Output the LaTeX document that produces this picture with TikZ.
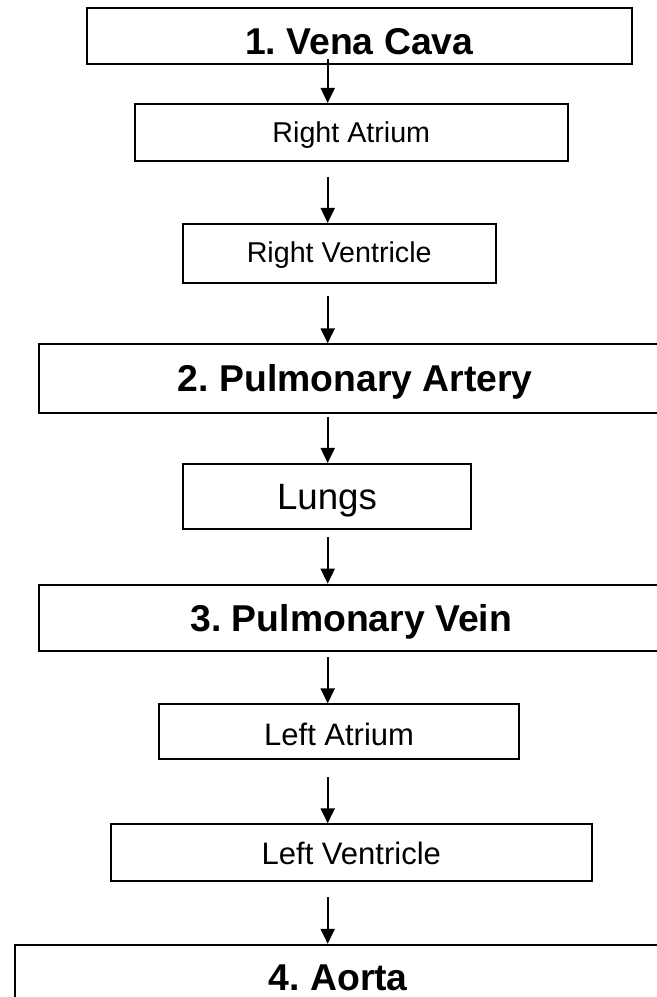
\documentclass[tikz,border=0pt]{standalone}
\usepackage{fontspec}
\setmainfont{Liberation Sans}
\frenchspacing
\usetikzlibrary{arrows.meta,calc}
\begin{document}
\begin{tikzpicture}[x=0.75pt,y=-0.75pt,
  box/.style={draw=black,line width=1.5pt,rectangle,inner sep=0pt,anchor=center},
  big/.style={font=\fontsize{28pt}{30pt}\selectfont\bfseries},
  smallr/.style={font=\fontsize{21.5pt}{24pt}\selectfont},
  smalll/.style={font=\fontsize{23.25pt}{26pt}\selectfont},
  arr/.style={line width=1.5pt,-{Triangle[length=11.25pt,width=10.5pt]}}]
\useasboundingbox (0,0) rectangle (657,997);
\coordinate (ax) at (327.7,0);
\node[box,big,minimum width=408.75pt,minimum height=42pt,text height=26.6pt,text depth=0pt] (vc) at (359.2,36.3) {1. Vena Cava};
\node[box,smallr,minimum width=324.75pt,minimum height=42.5pt,text height=15.4pt,text depth=0pt] (ra) at (351.3,132.3) {Right Atrium};
\node[box,smallr,minimum width=234.75pt,minimum height=44pt,text height=15.4pt,text depth=1.95pt] (rv) at (339.2,253.3) {Right Ventricle};
\node[box,big,minimum width=474pt,minimum height=51.3pt,text height=20pt,text depth=0pt] (pa) at (355.3,378.5) {2. Pulmonary Artery};
\node[box,font=\fontsize{27.5pt}{30pt}\selectfont,minimum width=216.5pt,minimum height=48.5pt,text height=19.7pt,text depth=0pt] (lu) at (327,496.3) {Lungs};
\node[box,big,minimum width=468.5pt,minimum height=49.5pt,text height=20pt,text depth=0pt] (pv) at (351.3,617.7) {3. Pulmonary Vein};
\node[box,smalll,minimum width=270.5pt,minimum height=41pt,text height=20.85pt,text depth=0pt] (la) at (339.1,731.7) {Left Atrium};
\node[box,smalll,minimum width=360.4pt,minimum height=42.3pt,text height=18.45pt,text depth=0pt] (lv) at (351.3,852.5) {Left Ventricle};
\node[box,big,minimum width=484.5pt,minimum height=49pt,text height=20pt,text depth=0pt] (ao) at (338.3,977.5) {4. Aorta};
\draw[arr] ($(vc.south -| ax)+(0,-6)$) -- (ra.north -| ax);
\draw[arr] ($(ra.south -| ax)+(0,15)$) -- (rv.north -| ax);
\draw[arr] ($(rv.south -| ax)+(0,12.3)$) -- (pa.north -| ax);
\draw[arr] ($(pa.south -| ax)+(0,3)$) -- (lu.north -| ax);
\draw[arr] ($(lu.south -| ax)+(0,7.3)$) -- (pv.north -| ax);
\draw[arr] ($(pv.south -| ax)+(0,5.3)$) -- (la.north -| ax);
\draw[arr] ($(la.south -| ax)+(0,17)$) -- (lv.north -| ax);
\draw[arr] ($(lv.south -| ax)+(0,15.3)$) -- (ao.north -| ax);
\end{tikzpicture}
\end{document}
